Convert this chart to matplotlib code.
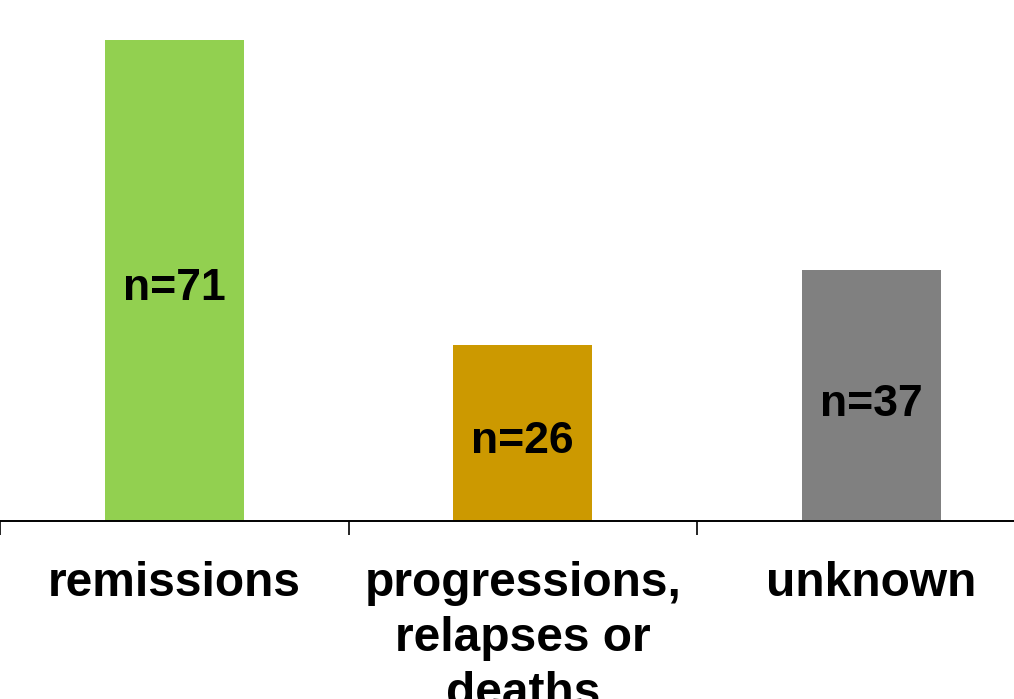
import matplotlib
matplotlib.use("Agg")
import matplotlib.pyplot as plt
import numpy as np

plt.rcParams['font.family'] = ['Liberation Sans', 'Arial', 'DejaVu Sans']

categories = ['remissions', 'progressions,\nrelapses or\ndeaths', 'unknown']
counts = [71, 26, 37]
colors = ['#92D050', '#CC9900', '#808080']

W, H = 1014, 699
fig = plt.figure(figsize=(W / 100, H / 100), dpi=100)
base = 521      # pixel row of the axis line
top = 40        # pixel row of the tallest bar
ax = fig.add_axes([0, (H - base) / H, 1, (base - top) / H])

x = np.arange(len(categories))
ax.bar(x, counts, width=0.40, color=colors, zorder=2)

for xi, v in zip(x, counts):
    ax.annotate(f"n={v}", (xi, v / 2), xytext=(0, -6), textcoords='offset points',
                ha='center', va='center', fontsize=32, fontweight='bold')

for s in ['top', 'right', 'left']:
    ax.spines[s].set_visible(False)
ax.spines['bottom'].set_linewidth(1.4)
ax.set_yticks([])

# boundary ticks between categories, labels at the centres
ax.set_xticks(np.arange(-0.5, len(categories) + 0.5, 1.0))
ax.set_xticklabels([])
ax.tick_params(axis='x', which='major', direction='out', length=10, width=1.2)
ax.set_xticks(x, minor=True)
ax.set_xticklabels(categories, minor=True, fontsize=34.5, fontweight='bold',
                   linespacing=1.28)
ax.tick_params(axis='x', which='minor', length=0, pad=29)

# each category cell is 348.5 px wide; the right side runs past the edge
ax.set_xlim(-0.5, -0.5 + W / 348.5)
ax.set_ylim(0, max(counts))

fig.savefig('out.png', dpi=100)
